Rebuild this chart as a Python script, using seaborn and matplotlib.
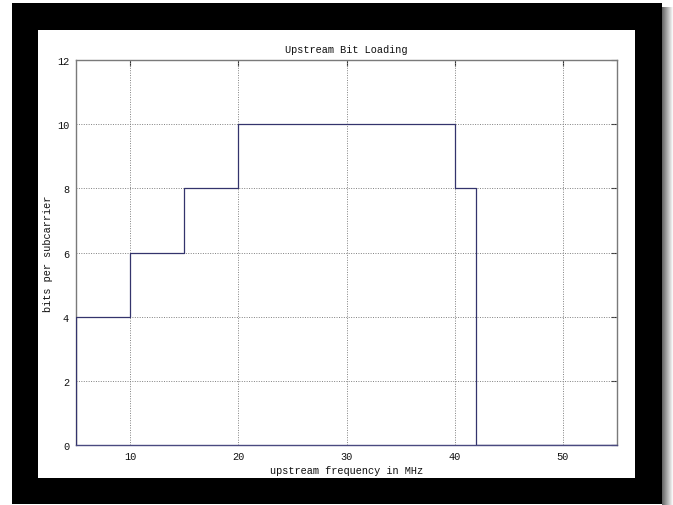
import matplotlib
matplotlib.use("Agg")
import matplotlib.pyplot as plt
from matplotlib.patches import Rectangle
import numpy as np
import pandas as pd
import seaborn as sns

# Bit loading per frequency band (step function, value holds until next edge)
freq_mhz = [5, 5, 10, 15, 20, 40, 42, 55]
bits = [0, 4, 6, 8, 10, 8, 0, 0]

x_ticks = [10, 20, 30, 40, 50]
y_ticks = [0, 2, 4, 6, 8, 10, 12]

title = "Upstream Bit Loading"
x_label = "upstream frequency in MHz"
y_label = "bits per subcarrier"

sns.set_theme(style="white")
plt.rcParams["font.family"] = ["Liberation Mono", "DejaVu Sans Mono"]
plt.rcParams["font.size"] = 7.4

W, H = 673, 506
fig = plt.figure(figsize=(W / 100, H / 100), dpi=100)
fig.patch.set_facecolor("white")


def px_rect(x0, y0, x1, y1, **kw):
    """Rectangle given in pixel coordinates measured from the top-left corner."""
    r = Rectangle((x0 / W, 1 - y1 / H), (x1 - x0) / W, (y1 - y0) / H,
                  transform=fig.transFigure, linewidth=0, **kw)
    fig.add_artist(r)
    return r


# drop shadow on the right side of the frame
shade = np.linspace(0.40, 0.97, 11)
for i, g in enumerate(shade):
    px_rect(662 + i, 8, 663 + i, 506, facecolor=(g, g, g), zorder=0)
# black mat and white card
px_rect(12, 4, 662, 505, facecolor="black", zorder=1)
px_rect(38, 31, 635, 479, facecolor="white", zorder=2)

ax = fig.add_axes([76 / W, 60 / H, 541 / W, 385 / H])
ax.set_zorder(3)
ax.set_facecolor("white")

df = pd.DataFrame({"freq": freq_mhz, "bits": bits})
sns.lineplot(data=df, x="freq", y="bits", estimator=None, sort=False,
             drawstyle="steps-post", color="#34346c", linewidth=0.9, ax=ax,
             zorder=4)

ax.set_xlim(5, 55)
ax.set_ylim(0, 12)
ax.set_xticks(x_ticks)
ax.set_yticks(y_ticks)
ax.set_xticklabels([str(t) for t in x_ticks])
ax.set_yticklabels([str(t) for t in y_ticks])

grid_kw = dict(color="#808080", linewidth=0.7, linestyle=(0, (1, 1.5)), zorder=1)
for t in x_ticks:
    ax.axvline(t, **grid_kw)
for t in y_ticks[1:-1]:
    ax.axhline(t, **grid_kw)

for name, sp in ax.spines.items():
    sp.set_visible(True)
    sp.set_linewidth(1.0)
    sp.set_color("#7a7a7a")
ax.spines["bottom"].set_color("#4a4a80")

ax.tick_params(axis="both", which="major", direction="in", length=4, width=0.8,
               color="#303030", top=True, right=True, labelsize=7.4,
               labelcolor="#111111")
ax.tick_params(axis="x", pad=4.5)
ax.tick_params(axis="y", pad=5)

ax.set_title(title, fontsize=7.4, color="#111111", pad=6)
ax.set_xlabel(x_label, fontsize=7.4, color="#111111", labelpad=2.5)
ax.set_ylabel(y_label, fontsize=7.4, color="#111111", labelpad=3)

fig.savefig("out.png", dpi=100, facecolor="white")
